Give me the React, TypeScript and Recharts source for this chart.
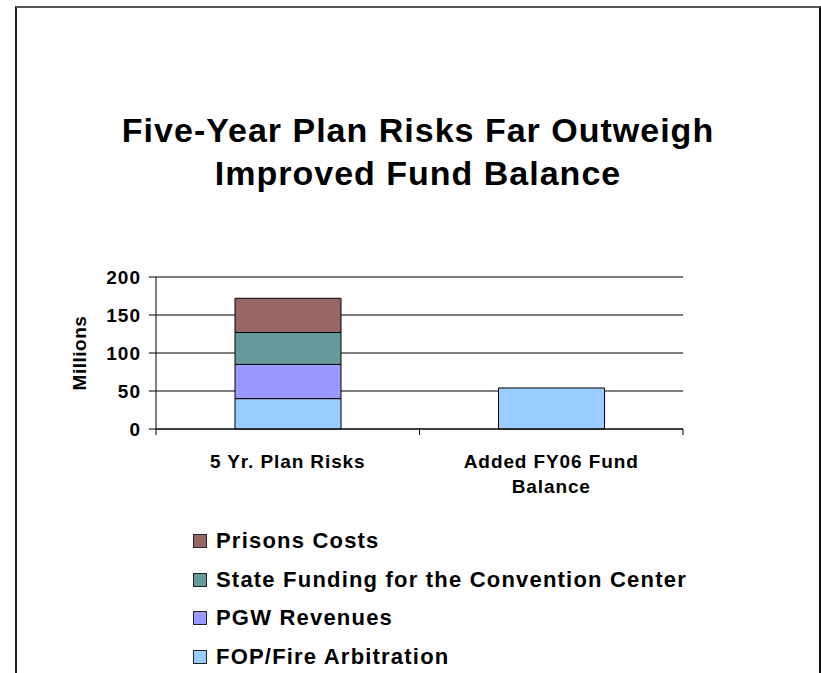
import React from "react"
import { BarChart, Bar, XAxis, YAxis, CartesianGrid, Legend } from "recharts"

const categories = ["5 Yr. Plan Risks", "Added FY06 Fund\nBalance"]
const fopFire = [40, 54]
const pgwRevenues = [45, 0]
const stateFunding = [42, 0]
const prisonsCosts = [45, 0]
const yTicks = [0, 50, 100, 150, 200]

const series = [
  { key: "fop", name: "FOP/Fire Arbitration", color: "#99CCFF" },
  { key: "pgw", name: "PGW Revenues", color: "#9999FF" },
  { key: "state", name: "State Funding for the Convention Center", color: "#669999" },
  { key: "prisons", name: "Prisons Costs", color: "#996666" },
]

const data = categories.map((c, i) => ({
  category: c,
  fop: fopFire[i],
  pgw: pgwRevenues[i],
  state: stateFunding[i],
  prisons: prisonsCosts[i],
}))

const FONT = '"Liberation Sans", Arial, sans-serif'
const W = 821
const H = 673
const margin = { top: 277, right: 138, bottom: 214, left: 0 }
const Y_AXIS_W = 156
const plotWidth = W - margin.left - margin.right - Y_AXIS_W

function XTick(props: any) {
  const { x, y, payload, index } = props
  const half = plotWidth / categories.length / 2
  const lines = String(payload.value).split("\n")
  return (
    <g>
      {index === 0 && <line x1={x - half} x2={x - half} y1={y} y2={y + 6} stroke="#000" />}
      <line x1={x + half} x2={x + half} y1={y} y2={y + 6} stroke="#000" />
      {lines.map((ln, i) => (
        <text key={i} x={x} y={y + 39 + i * 25} textAnchor="middle" fontSize={19} fontWeight="bold" fill="#000" fontFamily={FONT} letterSpacing={0.9}>
          {ln}
        </text>
      ))}
    </g>
  )
}

function YLabel(props: any) {
  const vb = props.viewBox || {}
  const cx = 86
  const cy = (vb.y ?? 277) + (vb.height ?? 152) / 2
  return (
    <text x={cx} y={cy} transform={`rotate(-90, ${cx}, ${cy})`} textAnchor="middle" fontSize={19} fontWeight="bold" fill="#000" fontFamily={FONT} letterSpacing={0.5}>
      Millions
    </text>
  )
}

function LegendBox(props: any) {
  const order = series.map((s) => s.name)
  const items = [...(props.payload || [])].sort((a: any, b: any) => order.indexOf(b.value) - order.indexOf(a.value))
  return (
    <div style={{ fontFamily: FONT, fontWeight: "bold", fontSize: 22, letterSpacing: 1.2, color: "#000" }}>
      {items.map((it: any) => (
        <div key={it.value} style={{ display: "flex", alignItems: "center", height: 38.5, whiteSpace: "nowrap" }}>
          <span style={{ display: "inline-block", width: 12, height: 12, background: it.color, border: "1.5px solid #222", marginRight: 9 }} />
          <span>{it.value}</span>
        </div>
      ))}
    </div>
  )
}

export default function App() {
  return (
    <div style={{ position: "absolute", left: 0, top: 0, width: W, height: H, background: "#fff", overflow: "hidden" }}>
      <div style={{ position: "absolute", left: 15, top: 6, width: 802, height: 700, borderTop: "2px solid #555", borderLeft: "2px solid #222", borderRight: "2px solid #111" }} />
      <div style={{ position: "absolute", left: 15, width: 806, top: 109, textAlign: "center", fontFamily: FONT, fontWeight: "bold", fontSize: 34, letterSpacing: 1, lineHeight: "43px", color: "#000" }}>
        Five-Year Plan Risks Far Outweigh
        <br />
        Improved Fund Balance
      </div>
      <div style={{ position: "absolute", left: 0, top: 0 }}>
        <BarChart width={W} height={H} data={data} margin={margin} barSize={106}>
          <CartesianGrid vertical={false} stroke="#000" strokeOpacity={1} />
          <XAxis dataKey="category" height={30} axisLine={{ stroke: "#000" }} tickLine={false} tickSize={0} tickMargin={0} tick={<XTick />} interval={0} />
          <YAxis width={Y_AXIS_W} domain={[0, 200]} ticks={yTicks} axisLine={{ stroke: "#000" }} tickLine={{ stroke: "#000" }} tickSize={7} tickMargin={8} tick={{ fontSize: 19, fontWeight: "bold", fill: "#000", fontFamily: FONT, letterSpacing: 1 }} label={<YLabel />} />
          <YAxis yAxisId="right" orientation="right" width={0} domain={[0, 200]} tick={false} tickLine={false} axisLine={{ stroke: "#000" }} />
          {series.map((s) => (
            <Bar key={s.key} dataKey={s.key} name={s.name} stackId="a" fill={s.color} stroke="#000" strokeWidth={1} isAnimationActive={false} />
          ))}
          <Legend layout="vertical" align="center" verticalAlign="middle" content={<LegendBox />} wrapperStyle={{ left: 193, top: 522, width: 600, height: 160 }} />
        </BarChart>
      </div>
    </div>
  )
}
